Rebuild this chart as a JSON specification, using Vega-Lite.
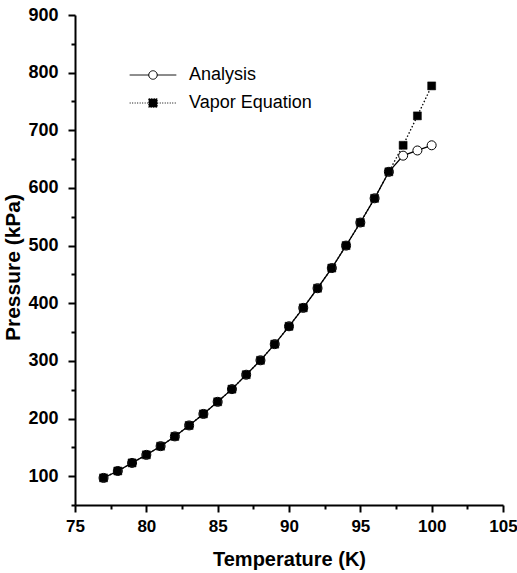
{
  "$schema": "https://vega.github.io/schema/vega-lite/v6.json",
  "width": 428,
  "height": 490,
  "autosize": {"type": "none"},
  "padding": {"left": 75, "top": 15, "right": 14, "bottom": 68},
  "background": "white",
  "config": {
    "view": {"stroke": null},
    "axis": {
      "grid": false,
      "domainColor": "black",
      "domainWidth": 2,
      "tickColor": "black",
      "tickWidth": 2,
      "labelFont": "Liberation Sans",
      "labelFontWeight": "bold",
      "labelFontSize": 18,
      "labelColor": "black",
      "titleFont": "Liberation Sans",
      "titleFontWeight": "bold",
      "titleFontSize": 20,
      "titleColor": "black"
    }
  },
  "datasets": {
    "pts": [
      {"series": "Analysis", "T": 77, "P": 97},
      {"series": "Analysis", "T": 78, "P": 109},
      {"series": "Analysis", "T": 79, "P": 123},
      {"series": "Analysis", "T": 80, "P": 137},
      {"series": "Analysis", "T": 81, "P": 152},
      {"series": "Analysis", "T": 82, "P": 169},
      {"series": "Analysis", "T": 83, "P": 188},
      {"series": "Analysis", "T": 84, "P": 208},
      {"series": "Analysis", "T": 85, "P": 229},
      {"series": "Analysis", "T": 86, "P": 251},
      {"series": "Analysis", "T": 87, "P": 276},
      {"series": "Analysis", "T": 88, "P": 301},
      {"series": "Analysis", "T": 89, "P": 329},
      {"series": "Analysis", "T": 90, "P": 360},
      {"series": "Analysis", "T": 91, "P": 392},
      {"series": "Analysis", "T": 92, "P": 426},
      {"series": "Analysis", "T": 93, "P": 461},
      {"series": "Analysis", "T": 94, "P": 500},
      {"series": "Analysis", "T": 95, "P": 540},
      {"series": "Analysis", "T": 96, "P": 582},
      {"series": "Analysis", "T": 97, "P": 628},
      {"series": "Analysis", "T": 98, "P": 656},
      {"series": "Analysis", "T": 99, "P": 665},
      {"series": "Analysis", "T": 100, "P": 674},
      {"series": "Vapor Equation", "T": 77, "P": 97},
      {"series": "Vapor Equation", "T": 78, "P": 109},
      {"series": "Vapor Equation", "T": 79, "P": 123},
      {"series": "Vapor Equation", "T": 80, "P": 137},
      {"series": "Vapor Equation", "T": 81, "P": 152},
      {"series": "Vapor Equation", "T": 82, "P": 169},
      {"series": "Vapor Equation", "T": 83, "P": 188},
      {"series": "Vapor Equation", "T": 84, "P": 208},
      {"series": "Vapor Equation", "T": 85, "P": 229},
      {"series": "Vapor Equation", "T": 86, "P": 251},
      {"series": "Vapor Equation", "T": 87, "P": 276},
      {"series": "Vapor Equation", "T": 88, "P": 301},
      {"series": "Vapor Equation", "T": 89, "P": 329},
      {"series": "Vapor Equation", "T": 90, "P": 360},
      {"series": "Vapor Equation", "T": 91, "P": 392},
      {"series": "Vapor Equation", "T": 92, "P": 426},
      {"series": "Vapor Equation", "T": 93, "P": 461},
      {"series": "Vapor Equation", "T": 94, "P": 500},
      {"series": "Vapor Equation", "T": 95, "P": 540},
      {"series": "Vapor Equation", "T": 96, "P": 582},
      {"series": "Vapor Equation", "T": 97, "P": 628},
      {"series": "Vapor Equation", "T": 98, "P": 674},
      {"series": "Vapor Equation", "T": 99, "P": 725},
      {"series": "Vapor Equation", "T": 100, "P": 777}
    ]
  },
  "data": {"name": "pts"},
  "encoding": {
    "x": {
      "field": "T",
      "type": "quantitative",
      "title": "Temperature (K)",
      "scale": {"domain": [75, 105], "nice": false, "zero": false},
      "axis": {
        "values": [75, 77.5, 80, 82.5, 85, 87.5, 90, 92.5, 95, 97.5, 100, 102.5, 105],
        "labelExpr": "datum.value % 5 === 0 ? datum.label : ''",
        "tickSize": {"condition": {"test": "datum.value % 5 === 0", "value": 7}, "value": 4},
        "labelFontSize": 17,
        "labelPadding": 6,
        "labelFlush": false,
        "labelOverlap": false,
        "titlePadding": 15
      }
    },
    "y": {
      "field": "P",
      "type": "quantitative",
      "title": "Pressure (kPa)",
      "scale": {"domain": [50, 900], "nice": false, "zero": false},
      "axis": {
        "values": [50, 100, 150, 200, 250, 300, 350, 400, 450, 500, 550, 600, 650, 700, 750, 800, 850, 900],
        "labelExpr": "datum.value % 100 === 0 ? datum.label : ''",
        "tickSize": {"condition": {"test": "datum.value % 100 === 0", "value": 7}, "value": 4},
        "labelPadding": 10,
        "labelOverlap": false,
        "labelFlush": false,
        "titlePadding": 4,
        "titleFontSize": 21,
        "titleY": 252
      }
    }
  },
  "layer": [
    {
      "transform": [{"filter": "datum.series === 'Analysis'"}],
      "mark": {"type": "line", "color": "black", "strokeWidth": 1.3}
    },
    {
      "transform": [{"filter": "datum.series === 'Vapor Equation'"}],
      "mark": {"type": "line", "color": "black", "strokeWidth": 1.3, "strokeDash": [1.5, 2]}
    },
    {
      "transform": [{"filter": "datum.series === 'Analysis'"}],
      "mark": {"type": "point", "shape": "circle", "filled": true, "fill": "white", "stroke": "black", "strokeWidth": 1, "size": 81, "opacity": 1}
    },
    {
      "transform": [{"filter": "datum.series === 'Vapor Equation'"}],
      "mark": {"type": "point", "shape": "square", "filled": true, "fill": "black", "stroke": "black", "strokeWidth": 0.5, "size": 64, "opacity": 1}
    },
    {
      "transform": [{"filter": "datum.T > 1000"}],
      "mark": {"type": "point", "filled": true, "strokeWidth": 1, "opacity": 1},
      "encoding": {
        "shape": {
          "field": "series",
          "type": "nominal",
          "scale": {
            "domain": ["Analysis", "Vapor Equation"],
            "range": [
              "M-5.5,0L-1,0M1,0A1,1 0 1,1 -1,0A1,1 0 1,1 1,0M1,0L5.5,0",
              "M-5.5,0L-1,0M-1,-1L1,-1L1,1L-1,1ZM1,0L5.5,0"
            ]
          },
          "legend": {
            "title": null,
            "orient": "none",
            "legendX": 69,
            "legendY": 51,
            "padding": 0,
            "symbolSize": 72,
            "symbolStrokeWidth": 1,
            "symbolOpacity": 1,
            "labelOffset": 27,
            "labelFont": "Liberation Sans",
            "labelFontSize": 18,
            "labelColor": "black",
            "rowPadding": 10,
            "labelLimit": 300
          }
        },
        "fill": {
          "field": "series",
          "type": "nominal",
          "scale": {"domain": ["Analysis", "Vapor Equation"], "range": ["white", "black"]}
        },
        "stroke": {
          "field": "series",
          "type": "nominal",
          "scale": {"domain": ["Analysis", "Vapor Equation"], "range": ["black", "black"]}
        },
        "strokeDash": {
          "field": "series",
          "type": "nominal",
          "scale": {"domain": ["Analysis", "Vapor Equation"], "range": [[1, 0], [1, 1.5]]}
        }
      }
    }
  ]
}
